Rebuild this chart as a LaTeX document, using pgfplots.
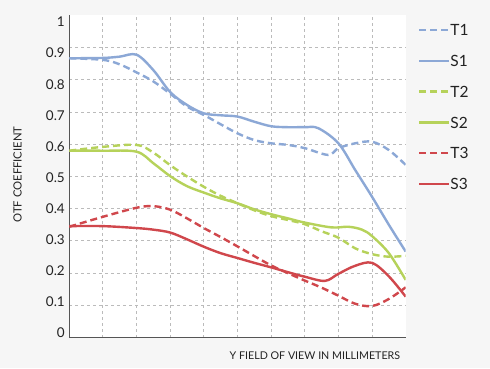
\documentclass[border=0pt]{standalone}
\usepackage{pgfplots}
\pgfplotsset{compat=1.18}
\usepackage{fontspec}
\setmainfont{Lato}
\definecolor{bgc}{HTML}{F6F6F6}
\definecolor{cblue}{HTML}{8CA8D6}
\definecolor{cgreen}{HTML}{B6D25A}
\definecolor{cred}{HTML}{D0474C}
\definecolor{gridc}{HTML}{BBBBBB}
\definecolor{axc}{HTML}{555555}
\definecolor{txt}{HTML}{222222}
\begin{document}
\begin{tikzpicture}
\fill[bgc] (0pt,0pt) rectangle (490pt,368pt);
\begin{axis}[
  at={(69.3pt,30.4pt)}, anchor=south west,
  scale only axis, width=336.4pt, height=322.2pt,
  xmin=0, xmax=10, ymin=0, ymax=1,
  axis background/.style={fill=white},
  axis x line*=bottom, axis y line*=left,
  axis line style={-, draw=axc, line width=1.3pt},
  xtick={1,2,3,4,5,6,7,8,9}, xticklabels={},
  ytick={0.0143,0.1108,0.2073,0.3039,0.4004,0.4969,0.5934,0.6899,0.7865,0.8830,0.9795},
  yticklabels={0,0.1,0.2,0.3,0.4,0.5,0.6,0.7,0.8,0.9,1},
  minor ytick={0.1,0.2,0.3,0.4,0.5,0.6,0.7,0.8,0.9},
  major tick length=0pt, minor tick length=0pt,
  xmajorgrids, yminorgrids,
  grid style={draw=gridc, line width=0.9pt, dash pattern=on 3pt off 3pt},
  minor grid style={draw=gridc, line width=0.9pt, dash pattern=on 3pt off 3pt},
  /pgf/number format/assume math mode=true,
  yticklabel style={font=\fontsize{13.5}{13.5}\selectfont, text=txt, xshift=-1pt},
  ylabel={OTF COEFFICIENT},
  ylabel style={at={(axis description cs:-0.154,0.506)}, anchor=center, font=\fontsize{11.3}{11.3}\selectfont, text=txt},
  xlabel={Y FIELD OF VIEW IN MILLIMETERS},
  xlabel style={at={(axis description cs:0.994,-0.056)}, anchor=east, font=\fontsize{10.7}{10.7}\selectfont, text=txt},
  legend image code/.code={\draw[#1] (0pt,0pt) -- (30pt,0pt);},
  legend style={at={(rel axis cs:1.0365,0.972)}, anchor=north west, draw=none, fill=none,
    inner sep=0pt, outer sep=0pt, row sep=19.6pt,
    font=\fontsize{15.5}{15.5}\selectfont, text=txt,
    nodes={inner sep=0pt, text height=11.2pt, text depth=0pt},
    /tikz/every even column/.append style={column sep=8.5pt}},
  legend cell align=left,
  every axis plot/.append style={line width=2.4pt, smooth, tension=0.55},
]
\addplot[cblue, dash pattern=on 7pt off 4pt] coordinates {(0,0.867)(1,0.862)(1.5,0.848)(2,0.823)(2.5,0.795)(3,0.757)(3.5,0.717)(4,0.691)(4.5,0.662)(5,0.634)(5.5,0.613)(6,0.603)(6.5,0.598)(7,0.588)(7.7,0.567)(8,0.588)(8.5,0.603)(9,0.608)(9.5,0.582)(10,0.536)};
\addlegendentry{T1}
\addplot[cblue] coordinates {(0,0.867)(1,0.868)(1.5,0.872)(2,0.878)(2.5,0.83)(3,0.762)(3.5,0.722)(4,0.696)(4.5,0.69)(5,0.686)(5.5,0.67)(6,0.656)(6.5,0.653)(7,0.653)(7.4,0.65)(8,0.603)(8.5,0.52)(9,0.437)(9.5,0.35)(10,0.267)};
\addlegendentry{S1}
\addplot[cgreen, dash pattern=on 7pt off 4pt] coordinates {(0,0.58)(1,0.592)(2,0.598)(2.5,0.574)(3,0.535)(3.5,0.5)(4,0.468)(4.5,0.44)(5,0.417)(5.5,0.395)(6,0.377)(6.5,0.365)(7,0.352)(7.5,0.33)(8,0.31)(8.5,0.277)(9,0.259)(9.5,0.251)(10,0.254)};
\addlegendentry{T2}
\addplot[cgreen] coordinates {(0,0.58)(1,0.58)(2,0.577)(2.5,0.541)(3,0.501)(3.5,0.47)(4,0.45)(4.5,0.432)(5,0.417)(5.5,0.398)(6,0.383)(6.5,0.37)(7,0.357)(7.8,0.342)(8.3,0.344)(8.7,0.335)(9,0.315)(9.5,0.262)(10,0.179)};
\addlegendentry{S2}
\addplot[cred, dash pattern=on 7pt off 4pt] coordinates {(0,0.344)(1,0.375)(2,0.403)(2.5,0.408)(3,0.397)(3.5,0.37)(4,0.34)(4.5,0.312)(5,0.283)(5.5,0.253)(6,0.224)(6.5,0.2)(7,0.177)(7.5,0.155)(8,0.13)(8.5,0.105)(9,0.098)(9.5,0.12)(10,0.156)};
\addlegendentry{T3}
\addplot[cred] coordinates {(0,0.346)(1,0.346)(2,0.34)(2.5,0.335)(3,0.326)(3.5,0.305)(4,0.282)(4.5,0.262)(5,0.247)(5.5,0.232)(6,0.218)(6.5,0.203)(7,0.189)(7.6,0.176)(8,0.198)(8.5,0.223)(9,0.232)(9.5,0.19)(10,0.127)};
\addlegendentry{S3}
\end{axis}
\pgfresetboundingbox
\path (0pt,0pt) rectangle (490pt,368pt);
\end{tikzpicture}
\end{document}
